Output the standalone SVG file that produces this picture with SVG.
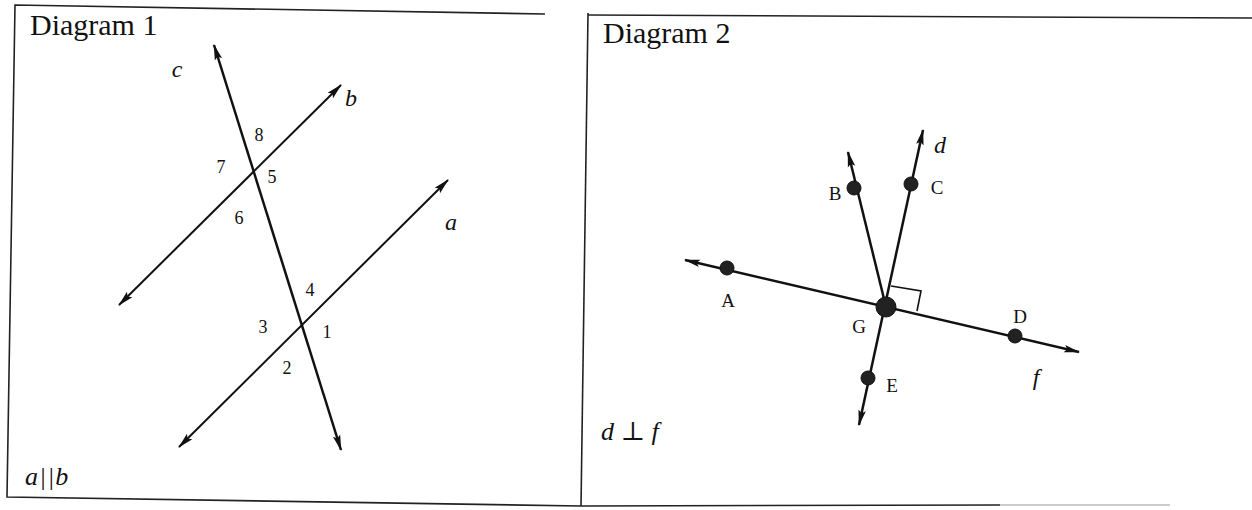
<svg xmlns="http://www.w3.org/2000/svg" width="1252" height="510" viewBox="0 0 1252 510">
<defs>
<marker id="arr" viewBox="0 0 16 10" refX="15" refY="5" markerWidth="16" markerHeight="10" markerUnits="userSpaceOnUse" orient="auto-start-reverse">
<path d="M0,1.2 L16,5 L0,8.8 L3,5 z" fill="#111"/>
</marker>
<style>
.frame{fill:none;stroke:#222;stroke-width:1.6}
.ln{fill:none;stroke:#111;stroke-width:2}
.lnb{fill:none;stroke:#111;stroke-width:2.5}
text{font-family:"Liberation Serif","Times New Roman","DejaVu Serif",serif;fill:#111}
.title{font-size:30px}
.it{font-style:italic;font-size:24px;text-anchor:middle}
.num{font-size:18px;text-anchor:middle}
.pt{font-size:19px;text-anchor:middle}
.dot{fill:#222;stroke:#111;stroke-width:1}
</style>
</defs>
<rect width="1252" height="510" fill="#fff"/>

<g id="frames">
<polyline class="frame" points="545,14 15,5 7,497 581,506"/>
<line class="frame" x1="588" y1="13" x2="581" y2="506"/>
<line class="frame" x1="588" y1="15" x2="1252" y2="18"/>
<line class="frame" x1="581" y1="506" x2="1000" y2="505"/>
<line fill="none" stroke="#bbb" stroke-width="1.4" x1="1000" y1="505" x2="1170" y2="505"/>
</g>

<g id="titles">
<text class="title" x="30" y="35">Diagram 1</text>
<text class="title" x="603" y="43">Diagram 2</text>
<text x="25" y="485" font-style="italic" font-size="26" letter-spacing="1">a||b</text>
<text x="601" y="440" font-size="26"><tspan font-style="italic">d</tspan> ⊥ <tspan font-style="italic">f</tspan></text>
</g>

<g id="connectors">
<line id="line-c" class="lnb" x1="214" y1="45" x2="341" y2="450" marker-start="url(#arr)" marker-end="url(#arr)"/>
<line id="line-b" class="ln" x1="119" y1="305" x2="341" y2="85" marker-start="url(#arr)" marker-end="url(#arr)"/>
<line id="line-a" class="ln" x1="179" y1="447" x2="448" y2="180" marker-start="url(#arr)" marker-end="url(#arr)"/>
<line id="line-f" class="lnb" x1="685" y1="260" x2="1079" y2="352" marker-start="url(#arr)" marker-end="url(#arr)"/>
<line id="line-d" class="lnb" x1="859" y1="425" x2="923" y2="130" marker-start="url(#arr)" marker-end="url(#arr)"/>
<line id="ray-GB" class="lnb" x1="886" y1="307" x2="848" y2="152" marker-end="url(#arr)"/>
<polyline id="right-angle" fill="none" stroke="#111" stroke-width="1.6" points="891,286 921,291 917,311"/>
</g>

<g id="labels-d1">
<text class="it" x="177" y="77">c</text>
<text class="it" x="351" y="106">b</text>
<text class="it" x="451" y="230">a</text>
<text class="num" x="259" y="141">8</text>
<text class="num" x="221" y="173">7</text>
<text class="num" x="272" y="183">5</text>
<text class="num" x="239" y="224">6</text>
<text class="num" x="310" y="296">4</text>
<text class="num" x="263" y="333">3</text>
<text class="num" x="327" y="338">1</text>
<text class="num" x="287" y="374">2</text>
</g>

<g id="node-G"><circle class="dot" cx="886" cy="307" r="10"/><text class="pt" x="859" y="333">G</text></g>
<g id="node-A"><circle class="dot" cx="727" cy="268" r="7"/><text class="pt" x="728" y="307">A</text></g>
<g id="node-B"><circle class="dot" cx="854" cy="188" r="7"/><text class="pt" x="835" y="200">B</text></g>
<g id="node-C"><circle class="dot" cx="911" cy="184" r="7"/><text class="pt" x="937" y="194">C</text></g>
<g id="node-D"><circle class="dot" cx="1015" cy="336" r="7"/><text class="pt" x="1020" y="323">D</text></g>
<g id="node-E"><circle class="dot" cx="868" cy="378" r="7"/><text class="pt" x="892" y="392">E</text></g>
<g id="labels-d2">
<text class="it" x="940" y="153">d</text>
<text class="it" x="1036" y="385">f</text>
</g>
</svg>
